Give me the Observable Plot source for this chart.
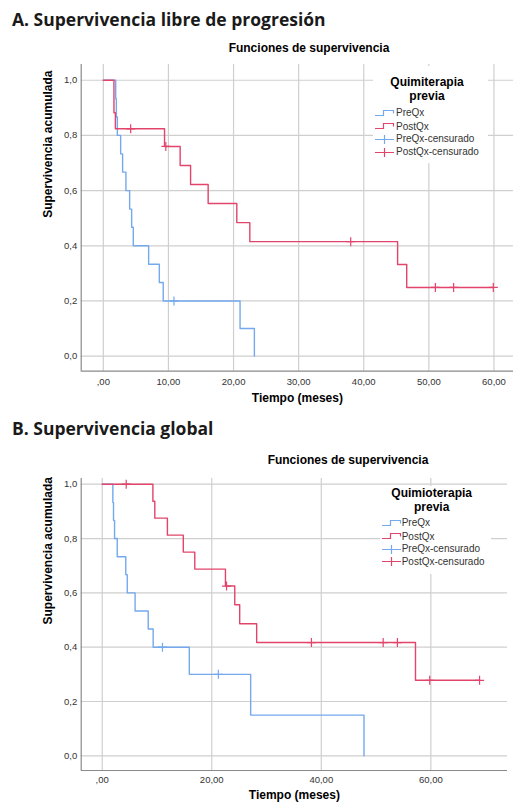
<!DOCTYPE html>
<html><head><meta charset="utf-8">
<script src="https://cdn.jsdelivr.net/npm/d3@7"></script>
<script src="https://cdn.jsdelivr.net/npm/@observablehq/plot@0.6"></script>
<style>
body{margin:0;background:#fff;}
#page{position:relative;width:517px;height:805px;overflow:hidden;font-family:"Liberation Sans",Arial,sans-serif;}
.abs{position:absolute;white-space:nowrap;line-height:1;}
.heading{font-family:"Open Sans",Lato,sans-serif;font-weight:700;font-size:17.5px;line-height:17.5px;color:#1a1a1a;}
.ctitle{font-weight:700;font-size:12px;line-height:12px;color:#000;transform:translateX(-50%);}
.ltitle{font-weight:700;font-size:12px;line-height:12px;color:#000;text-align:center;transform:translateX(-50%);}
.litem{font-size:10px;line-height:10px;color:#333;}
.lbox{position:absolute;background:#fff;}
.chart{position:absolute;left:0;}
</style></head>
<body><div id="page"></div>
<script>
// ---- tick values ----
const yTicks = [0, 0.2, 0.4, 0.6, 0.8, 1.0];
const xTicksA = [0, 10, 20, 30, 40, 50, 60];
const xTicksB = [0, 20, 40, 60];

// ---- Panel A: supervivencia libre de progresión ----
const preA_t = [0, 1.9, 2.0, 2.15, 2.66, 2.96, 3.47, 4.04, 4.35, 4.6, 6.96, 8.6, 9.2, 21.0, 23.2];
const preA_s = [1, 0.933, 0.867, 0.8, 0.733, 0.667, 0.6, 0.533, 0.467, 0.4, 0.333, 0.267, 0.2, 0.1, 0];
const preA_cens_t = [10.85];
const preA_cens_s = [0.2];
const postA_t = [0, 1.63, 1.85, 9.4, 11.8, 13.4, 16.1, 20.5, 22.5, 45.2, 46.6];
const postA_s = [1, 0.882, 0.824, 0.760, 0.691, 0.622, 0.553, 0.484, 0.415, 0.332, 0.249];
const postA_cens_t = [4.2, 9.6, 38.0, 51.0, 53.8, 59.9];
const postA_cens_s = [0.824, 0.760, 0.415, 0.249, 0.249, 0.249];

// ---- Panel B: supervivencia global ----
const preB_t = [0, 1.94, 2.06, 2.25, 2.74, 4.3, 4.57, 6.0, 8.4, 9.3, 15.9, 27.1, 47.8];
const preB_s = [1, 0.933, 0.867, 0.8, 0.733, 0.667, 0.6, 0.533, 0.467, 0.4, 0.3, 0.15, 0];
const preB_cens_t = [11.0, 21.2];
const preB_cens_s = [0.4, 0.3];
const postB_t = [0, 9.25, 9.6, 11.9, 14.8, 16.9, 22.5, 24.2, 25.1, 28.2, 57.2];
const postB_s = [1, 0.9375, 0.875, 0.8125, 0.75, 0.6875, 0.625, 0.556, 0.486, 0.417, 0.278];
const postB_cens_t = [4.38, 22.7, 38.2, 51.3, 53.9, 59.8, 68.9];
const postB_cens_s = [1, 0.625, 0.417, 0.417, 0.417, 0.278, 0.278];

// ---- texts ----
const headingA = "A. Supervivencia libre de progresión";
const headingB = "B. Supervivencia global";
const chartTitle = "Funciones de supervivencia";
const yLabel = "Supervivencia acumulada";
const xLabel = "Tiempo (meses)";
const legendTitleA = ["Quimiterapia", "previa"];
const legendTitleB = ["Quimioterapia", "previa"];
const legendLabels = ["PreQx", "PostQx", "PreQx-censurado", "PostQx-censurado"];

const BLUE = "#74a9ee";
const RED = "#e2446b";

const loc = d3.formatLocale({decimal: ",", thousands: ".", grouping: [3], currency: ["", ""]});
const f2 = loc.format(".2f");
const xFmt = d => { const s = f2(d); return s.startsWith("0,") ? s.slice(1) : s; };
const yFmt = loc.format(".1f");

function stepData(times, surv, censTimes) {
  const pts = times.map((t, i) => ({t, s: surv[i]}));
  const lastT = times[times.length - 1];
  const maxC = censTimes.length ? Math.max(...censTimes) : -Infinity;
  if (maxC > lastT) pts.push({t: maxC, s: surv[surv.length - 1]});
  return pts;
}
const cens = (ts, ss) => ts.map((t, i) => ({t, s: ss[i]}));

function km(o) {
  return Plot.plot({
    width: 517, height: o.height,
    marginLeft: o.ml, marginRight: o.mr, marginTop: o.mt, marginBottom: o.mb,
    style: {fontFamily: "'Liberation Sans', Arial, sans-serif", fontSize: "9.5px", color: "#333", background: "transparent", overflow: "visible"},
    x: {domain: o.xDomain, ticks: o.xTicks, tickFormat: xFmt, tickSize: 0, tickPadding: o.xPad, label: null},
    y: {domain: o.yDomain, ticks: yTicks, tickFormat: yFmt, tickSize: 0, tickPadding: 4, label: null},
    marks: [
      Plot.ruleX(o.xTicks, {stroke: "#cfcfcf", strokeWidth: 1.2}),
      Plot.ruleY(yTicks, {stroke: "#cfcfcf", strokeWidth: 1.2}),
      Plot.ruleX([o.xDomain[0]], {stroke: "#8a8a8a", strokeWidth: 1.2}),
      Plot.ruleY([o.yDomain[0]], {stroke: "#8a8a8a", strokeWidth: 1.2}),
      Plot.line(o.pre, {x: "t", y: "s", curve: "step-after", stroke: BLUE, strokeWidth: 1.4}),
      Plot.line(o.post, {x: "t", y: "s", curve: "step-after", stroke: RED, strokeWidth: 1.4}),
      Plot.dot(o.preCens, {x: "t", y: "s", symbol: "plus", r: 3, stroke: BLUE, strokeWidth: 1.2}),
      Plot.dot(o.postCens, {x: "t", y: "s", symbol: "plus", r: 3, stroke: RED, strokeWidth: 1.2}),
      Plot.text([yLabel], {text: d => d, frameAnchor: "left", rotate: -90, dx: -33.5, fontSize: 12, fontWeight: "bold", fill: "#000"}),
      Plot.text([xLabel], {text: d => d, frameAnchor: "bottom", dy: o.xLabelDy, fontSize: 12, fontWeight: "bold", fill: "#000"})
    ]
  });
}

const page = document.getElementById("page");
function addDiv(cls, text, left, top) {
  const d = document.createElement("div");
  d.className = "abs " + cls;
  d.textContent = text;
  d.style.left = left + "px";
  d.style.top = top + "px";
  page.appendChild(d);
  return d;
}
function addChart(svg, top) {
  const wrap = document.createElement("div");
  wrap.className = "chart";
  wrap.style.top = top + "px";
  wrap.appendChild(svg);
  page.appendChild(wrap);
}
function icon(kind, color) {
  const ns = "http://www.w3.org/2000/svg";
  const s = document.createElementNS(ns, "svg");
  s.setAttribute("width", 19); s.setAttribute("height", 11);
  s.style.position = "absolute"; s.style.overflow = "visible";
  const p = document.createElementNS(ns, "path");
  p.setAttribute("d", kind === "step" ? "M0,7.5H8.5V2.5H18.5V5.5" : "M0,5.5H19M9.5,1V10");
  p.setAttribute("fill", "none"); p.setAttribute("stroke", color); p.setAttribute("stroke-width", 1.2);
  s.appendChild(p);
  return s;
}
function legend(o) {
  const box = document.createElement("div");
  box.className = "lbox";
  Object.assign(box.style, {left: o.box[0] + "px", top: o.box[1] + "px", width: o.box[2] + "px", height: o.box[3] + "px"});
  page.appendChild(box);
  o.title.forEach((line, i) => addDiv("ltitle", line, o.titleX, o.titleTop + i * 13.6));
  const kinds = ["step", "step", "cross", "cross"];
  const cols = [BLUE, RED, BLUE, RED];
  legendLabels.forEach((lab, i) => {
    const cy = o.rows[i];
    const ic = icon(kinds[i], cols[i]);
    ic.style.left = o.iconX + "px"; ic.style.top = (cy - 5.5) + "px";
    page.appendChild(ic);
    addDiv("litem", lab, o.textX, cy - 4.9);
  });
}

// headings
addDiv("heading", headingA, 12, 10.5);
addDiv("ctitle", chartTitle, 309, 41.6);

addChart(km({
  height: 360, ml: 80.7, mr: 4, mt: 6, mb: 47.3,
  xDomain: [-3.4, 63.0], yDomain: [-0.0545, 1.057], xTicks: xTicksA, xPad: 7, xLabelDy: 30.8,
  pre: stepData(preA_t, preA_s, preA_cens_t), post: stepData(postA_t, postA_s, postA_cens_t),
  preCens: cens(preA_cens_t, preA_cens_s), postCens: cens(postA_cens_t, postA_cens_s)
}), 58);

legend({box: [373, 66, 115, 97], title: legendTitleA, titleX: 427, titleTop: 76.3,
  rows: [113, 126.7, 139.3, 152], iconX: 375, textX: 396});

addDiv("heading", headingB, 12, 419.5);
addDiv("ctitle", chartTitle, 348, 454.1);

addChart(km({
  height: 335, ml: 80.7, mr: 10, mt: 8, mb: 35,
  xDomain: [-3.84, 74.0], yDomain: [-0.054, 1.021], xTicks: xTicksB, xPad: 6, xLabelDy: 28,
  pre: stepData(preB_t, preB_s, preB_cens_t), post: stepData(postB_t, postB_s, postB_cens_t),
  preCens: cens(preB_cens_t, preB_cens_s), postCens: cens(postB_cens_t, postB_cens_s)
}), 470);

legend({box: [380, 486, 111, 88], title: legendTitleB, titleX: 431.7, titleTop: 487.3,
  rows: [523.3, 536.7, 549.3, 561.7], iconX: 382, textX: 401.7});
</script>
</body></html>
